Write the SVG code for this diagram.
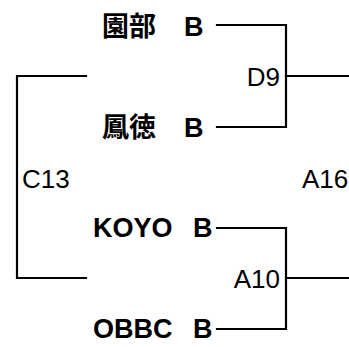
<svg xmlns="http://www.w3.org/2000/svg" width="349" height="347" viewBox="0 0 349 347">
<style>
.bg{fill:#fff}
.ln{fill:none;stroke:#000;stroke-width:2.2;stroke-linecap:square}
.nm{font-family:"Liberation Sans","Noto Sans CJK JP",sans-serif;font-weight:bold;font-size:27px;fill:#000}
.lb{font-family:"Liberation Sans","Noto Sans CJK JP",sans-serif;font-size:26px;fill:#000}
</style>
<rect class="bg" x="0" y="0" width="349" height="347"/>
<g id="connectors">
<path class="ln" d="M217,25 H286 V127 H217"/>
<path class="ln" d="M286,76 H349"/>
<path class="ln" d="M217,228 H286 V329 H217"/>
<path class="ln" d="M286,278 H349"/>
<path class="ln" d="M86,76 H17 V278 H86"/>
</g>
<g id="team-sonobe"><text class="nm" y="36"><tspan x="102">園部</tspan><tspan x="184">B</tspan></text></g>
<g id="team-hotoku"><text class="nm" y="137"><tspan x="102">鳳徳</tspan><tspan x="184">B</tspan></text></g>
<g id="team-koyo"><text class="nm" y="237"><tspan x="93">KOYO</tspan><tspan x="193">B</tspan></text></g>
<g id="team-obbc"><text class="nm" y="338"><tspan x="93">OBBC</tspan><tspan x="193">B</tspan></text></g>
<g id="match-d9"><text class="lb" x="280" y="86" text-anchor="end">D9</text></g>
<g id="match-a10"><text class="lb" x="280" y="288" text-anchor="end">A10</text></g>
<g id="match-c13"><text class="lb" x="22" y="188">C13</text></g>
<g id="match-a16"><text class="lb" x="302" y="188">A16</text></g>
</svg>
